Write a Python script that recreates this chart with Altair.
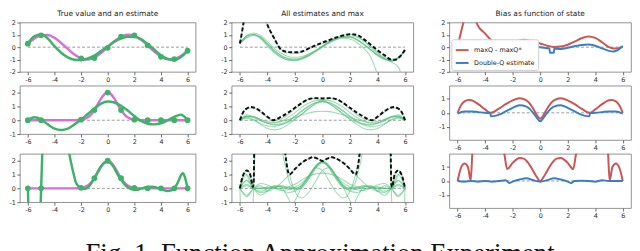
import altair as alt
import pandas as pd

# ---------------- data ----------------
XTICKS = [-6, -4, -2, 0, 2, 4, 6]
ZERO_X = [-6, 6]
ZERO_Y = [0, 0]

PTS_X = [-6, -5, -2, -1, 0, 1, 2, 3, 4, 5, 6]
R1_PTS_Y = [0.28, 0.96, -0.91, -0.88, -0.05, 0.86, 0.95, 0.14, -0.78, -0.96, -0.29]
R23_PTS_Y = [0.0, 0.0, 0.04, 0.74, 2.0, 0.74, 0.04, 0.0, 0.0, 0.0, 0.0]

GRID = [-6, -5.5, -5, -4.5, -4, -3.5, -3, -2.5, -2, -1.5, -1, -0.5, 0,
        0.5, 1, 1.5, 2, 2.5, 3, 3.5, 4, 4.5, 5, 5.5, 6]

# row 1 -------------------------------------------------------
R1_TRUE = [0.28, 0.71, 0.96, 0.98, 0.76, 0.35, -0.14, -0.60, -0.91, -1.00, -0.84, -0.48, 0.00,
           0.48, 0.84, 1.00, 0.91, 0.60, 0.14, -0.35, -0.76, -0.98, -0.96, -0.71, -0.28]
R1_EST = [0.30, 0.90, 1.02, 0.70, 0.08, -0.45, -0.82, -1.02, -1.05, -0.92, -0.68, -0.32, 0.05,
          0.45, 0.72, 0.85, 0.85, 0.65, 0.25, -0.20, -0.65, -0.95, -1.05, -0.80, -0.30]

R1_G_B = [0.30, 0.95, 1.15, 0.95, 0.45, -0.10, -0.50, -0.75, -0.82, -0.75, -0.55, -0.25, 0.12,
          0.48, 0.78, 0.98, 1.05, 0.90, 0.50, 0.00, -0.50, -0.90, -1.15, -0.90, -0.30]
R1_G_C_X = [-6, -5.5, -5, -4.5, -4, -3.5, -3, -2.5, -2, -1.5, -1, -0.5, 0, 0.5, 1, 1.5, 2, 2.5,
            3, 3.5, 4, 4.5]
R1_G_C = [0.30, 0.90, 1.05, 0.80, 0.22, -0.38, -0.82, -1.05, -1.10, -0.98, -0.72, -0.38, 0.00,
          0.35, 0.60, 0.72, 0.66, 0.38, -0.10, -0.80, -2.20, -4.0]
R1_G_D_X = [-6, -5.5, -5, -4.5, -4, -3.5, -3, -2.5, -2, -1.5, -1, -0.5, 0, 0.5, 1, 1.5, 2, 2.5,
            3, 3.5, 4, 4.5, 5, 5.5, 5.75, 6]
R1_G_D = [0.30, 0.80, 1.00, 0.82, 0.30, -0.25, -0.68, -0.95, -1.02, -0.90, -0.65, -0.30, 0.05,
          0.40, 0.65, 0.78, 0.78, 0.58, 0.20, -0.25, -0.68, -1.00, -1.20, -1.60, -2.3, -3.5]
R1_G_E_X = [-6, -5.85, -5.7, -5.5, -5, -4.5, -4.07, -3.5, -3, -2.5, -2, -1.5, -1, -0.5, 0, 0.5,
            1, 1.5, 2, 2.5, 3, 3.5, 4, 4.5, 5, 5.5, 6]
R1_G_E = [0.3, 1.2, 2.2, 3.2, 4.0, 3.4, 2.0, 0.7, -0.2, -0.45, -0.5, -0.4, -0.15, 0.1, 0.3, 0.5,
          0.7, 0.85, 0.9, 0.8, 0.5, 0.1, -0.4, -0.8, -1.05, -0.9, -0.25]
R1_G_F = [0.30, 0.75, 0.95, 0.75, 0.25, -0.30, -0.70, -0.90, -0.95, -0.85, -0.60, -0.28, 0.05,
          0.40, 0.68, 0.82, 0.82, 0.62, 0.25, -0.18, -0.60, -0.92, -1.10, -0.85, -0.30]
R1_MAX_X = [-6, -5.85, -5.7, -5.5, -5, -4.5, -4.07, -3.5, -3, -2.5, -2, -1.5, -1, -0.5, 0, 0.5,
            1, 1.5, 2, 2.5, 3, 3.5, 4, 4.5, 5, 5.3, 5.6, 6]
R1_MAX = [0.3, 1.2, 2.2, 3.2, 4.0, 3.4, 2.0, 0.7, -0.2, -0.4, -0.42, -0.35, -0.1, 0.15, 0.38,
          0.58, 0.78, 0.95, 1.05, 1.0, 0.65, 0.2, -0.25, -0.65, -1.0, -1.02, -0.8, -0.2]

R1_RED_X = [-6, -5.8, -5.55, -5.2, -4.9, -4.65, -4.5, -4, -3.5, -3, -2.5, -2, -1.5, -1.2, -1,
            -0.5, 0, 0.5, 1, 1.5, 2, 2.5, 3, 3.5, 4, 4.5, 5, 5.3, 5.6, 6]
R1_RED = [0.02, 1.0, 2.1, 3.0, 3.0, 2.05, 1.7, 1.1, 0.5, 0.07, 0.2, 0.4, 0.55, 0.6, 0.58,
          0.45, 0.3, 0.12, 0.02, 0.05, 0.2, 0.45, 0.72, 0.87, 0.75, 0.4, 0.0, -0.1, -0.1, 0.05]
R1_BLUE_X = [-6, -5.5, -5.2, -5, -4.5, -4, -3.5, -3, -2.5, -2, -1.5, -1, -0.5, 0, 0.5, 0.68,
             0.7, 1.0, 1.02, 1.5, 2, 2.5, 3, 3.5, 4, 4.5, 5, 5.3, 5.6, 6]
R1_BLUE = [0.0, 0.25, 0.3, 0.27, 0.12, -0.05, -0.15, -0.12, 0.0, 0.12, 0.2, 0.18, 0.1, 0.0,
           -0.08, -0.1, -0.45, -0.45, -0.1, -0.15, -0.05, 0.08, 0.18, 0.22, 0.12, -0.1, -0.3,
           -0.35, -0.25, 0.1]

# rows 2 and 3: true value ---------------------------------------
R23_TRUE_X = [-6, -5, -4, -3, -2.5, -2.25, -2, -1.75, -1.5, -1.25, -1, -0.75, -0.5, -0.25, 0,
              0.25, 0.5, 0.75, 1, 1.25, 1.5, 1.75, 2, 2.25, 2.5, 3, 4, 5, 6]
R23_TRUE = [0, 0, 0, 0, 0.0, 0.01, 0.04, 0.09, 0.21, 0.42, 0.74, 1.14, 1.56, 1.88, 2.0,
            1.88, 1.56, 1.14, 0.74, 0.42, 0.21, 0.09, 0.04, 0.01, 0.0, 0, 0, 0, 0]

# row 2 -------------------------------------------------------
R2_EST = [0.0, 0.22, 0.05, -0.3, -0.6, -0.7, -0.6, -0.3, 0.05, 0.45, 0.85, 1.2, 1.35,
          1.28, 1.05, 0.7, 0.3, -0.05, -0.25, -0.3, -0.22, 0.0, 0.25, 0.4, 0.0]
R2_G_B = [0.0, 0.4, 0.25, 0.0, -0.22, -0.3, -0.25, -0.05, 0.3, 0.7, 1.05, 1.28, 1.35,
          1.2, 0.85, 0.45, 0.05, -0.3, -0.6, -0.7, -0.6, -0.3, 0.05, 0.22, 0.0]
R2_G_C = [0.0, 0.3, 0.2, -0.05, -0.2, -0.2, -0.05, 0.2, 0.55, 0.95, 1.25, 1.42, 1.45,
          1.42, 1.25, 0.95, 0.55, 0.2, -0.05, -0.2, -0.2, -0.05, 0.2, 0.3, 0.0]
R2_G_D = [0.0, 0.3, 0.25, 0.05, -0.1, -0.15, -0.1, 0.05, 0.2, 0.38, 0.52, 0.62, 0.65,
          0.62, 0.52, 0.38, 0.2, 0.05, -0.1, -0.15, -0.1, 0.05, 0.25, 0.3, 0.0]
R2_G_E = [0.0, 0.85, 0.9, 0.6, 0.2, 0.0, 0.1, 0.4, 0.8, 1.25, 1.52, 1.58, 1.45,
          1.2, 0.85, 0.45, 0.1, -0.15, -0.3, -0.35, -0.2, 0.05, 0.25, 0.25, 0.0]
R2_G_F = [0.0, 0.25, 0.25, 0.05, -0.2, -0.35, -0.3, -0.15, 0.1, 0.45, 0.85, 1.2, 1.45,
          1.58, 1.52, 1.25, 0.8, 0.4, 0.1, 0.0, 0.2, 0.6, 0.9, 0.85, 0.0]
R2_G_G = [0.0, 0.15, 0.0, -0.25, -0.42, -0.45, -0.35, -0.1, 0.25, 0.65, 1.0, 1.25, 1.32,
          1.25, 1.0, 0.65, 0.25, -0.1, -0.35, -0.45, -0.42, -0.25, 0.0, 0.15, 0.0]
R2_MAX_X = [-6, -5.75, -5.5, -5.2, -5, -4.5, -4, -3.6, -3, -2.5, -2, -1.5, -1, -0.5, 0, 0.5,
            1, 1.5, 2, 2.5, 3, 3.6, 4, 4.5, 5, 5.2, 5.5, 5.75, 6]
R2_MAX = [0, 0.6, 0.85, 0.95, 0.92, 0.65, 0.25, 0.0, 0.25, 0.55, 0.9, 1.25, 1.52, 1.6, 1.58,
          1.6, 1.52, 1.25, 0.9, 0.55, 0.25, 0.0, 0.25, 0.65, 0.92, 0.95, 0.85, 0.6, 0]

R2_RED_X = [-6, -5.75, -5.5, -5.2, -5, -4.5, -4, -3.6, -3, -2.5, -2, -1.5, -1, -0.5, -0.25, 0,
            0.25, 0.5, 1, 1.5, 2, 2.5, 3, 3.6, 4, 4.5, 5, 5.2, 5.5, 5.75, 6]
R2_RED = [0, 0.55, 0.82, 0.92, 0.9, 0.62, 0.25, 0.0, 0.3, 0.62, 0.9, 1.05, 0.9, 0.3, -0.15,
          -0.42, -0.15, 0.3, 0.9, 1.05, 0.9, 0.62, 0.3, 0.0, 0.25, 0.62, 0.9, 0.92, 0.82, 0.55, 0]
R2_BLUE_X = [-6, -5.5, -5, -4.5, -4, -3.62, -3.58, -3.2, -2.8, -2.5, -2, -1.5, -1, -0.5, -0.25,
             0, 0.25, 0.5, 1, 1.5, 2, 2.5, 2.8, 3.2, 3.58, 3.62, 4, 4.5, 5, 5.5, 6]
R2_BLUE = [-0.05, 0.1, 0.1, 0.05, 0.0, -0.02, -0.25, -0.2, -0.05, 0.1, 0.35, 0.55, 0.45, 0.0,
           -0.35, -0.6, -0.35, 0.0, 0.45, 0.55, 0.35, 0.1, -0.05, -0.2, -0.25, -0.02, 0.0, 0.05,
           0.1, 0.1, -0.05]

# row 3 -------------------------------------------------------
R3_EST_X = [-6, -5.95, -5.85, -5.5, -5.15, -5.05, -5, -4.95, -4.85, -4, -3.1, -2.9, -2.6, -2.4,
            -2.2, -2, -1.75, -1.5, -1.25, -1, -0.75, -0.5, -0.25, 0, 0.25, 0.5, 0.75, 1, 1.25,
            1.5, 1.75, 2, 2.25, 2.5, 3, 3.25, 3.5, 4, 4.5, 4.75, 5, 5.25, 5.5, 5.65, 5.8, 6]
R3_EST = [0, -1.5, -4, -8, -4, -1.5, 0, 1.5, 4, 10, 4, 2.6, 1.2, 0.45, 0.15, 0.02, -0.05, 0.05,
          0.35, 0.75, 1.2, 1.6, 1.85, 1.9, 1.8, 1.45, 1.0, 0.65, 0.3, 0.08, -0.05, -0.1, -0.1,
          -0.02, 0.1, 0.12, 0.1, -0.05, -0.2, -0.15, 0.0, 0.4, 0.95, 1.1, 0.8, 0]
R3_G_B_X = [-6, -5.8, -5.65, -5.5, -5.25, -5, -4.75, -4.5, -4, -3.5, -3.25, -3, -2.5, -2.25, -2,
            -1.75, -1.5, -1.25, -1, -0.75, -0.5, -0.25, 0, 0.25, 0.5, 0.75, 1, 1.25, 1.5, 1.75,
            2, 2.2, 2.4, 2.6, 2.9, 3.1, 4, 4.85, 4.95, 5, 5.05, 5.15, 5.5, 5.85, 5.95, 6]
R3_G_B = [0, 0.8, 1.1, 0.95, 0.4, 0.0, -0.15, -0.2, -0.05, 0.1, 0.12, 0.1, -0.02, -0.1, -0.1,
          -0.05, 0.08, 0.3, 0.65, 1.0, 1.45, 1.8, 1.9, 1.85, 1.6, 1.2, 0.75, 0.35, 0.05, -0.05,
          0.02, 0.15, 0.45, 1.2, 2.6, 4, 10, 4, 1.5, 0, -1.5, -4, -8, -4, -1.5, 0]
R3_G_C = [0, 0.55, 0, -0.3, -0.2, 0.1, 0.15, 0.05, 0.0, 0.25, 0.8, 1.6, 1.95,
          1.6, 0.8, 0.25, 0.0, 0.05, 0.15, 0.1, -0.2, -0.3, 0, 0.55, 0]
R3_G_D = [0, -0.6, 0, 0.35, 0.25, 0.05, 0.0, 0.1, 0.3, 0.6, 0.9, 1.05, 1.1,
          1.05, 0.9, 0.6, 0.3, 0.1, 0.0, 0.05, 0.25, 0.35, 0, -0.6, 0]
R3_G_E_X = [-6, -5.8, -5.5, -5.25, -5.05, -4.97, -4.9, -4, -2.8, -2.7, -2.4, -2.2, -2, -1.75,
            -1.5, -1, -0.5, 0, 0.5, 1, 1.5, 2, 2.5, 3, 3.5, 4, 4.5, 5, 5.5, 6]
R3_G_E = [0, 0.85, 1.3, 1.0, 0.1, 1.5, 3.5, 8, 3.5, 2.5, 1.0, 0.3, -0.2, -0.6, -0.7, -0.3, 0.5,
          1.3, 1.5, 0.9, 0.2, -0.2, -0.3, -0.1, 0.1, 0.1, 0.0, 0.0, 0.2, 0]
R3_G_F_X = [-6, -5.5, -5, -4.5, -4, -3.5, -3, -2.5, -2, -1.5, -1, -0.5, 0, 0.5, 1, 1.5, 1.75, 2,
            2.2, 2.4, 2.7, 2.8, 4, 4.9, 4.97, 5.05, 5.25, 5.5, 5.8, 6]
R3_G_F = [0, 0.2, 0.0, 0.0, 0.1, 0.1, -0.1, -0.3, -0.2, 0.2, 0.9, 1.5, 1.3, 0.5, -0.3, -0.7,
          -0.6, -0.2, 0.3, 1.0, 2.5, 3.5, 8, 3.5, 1.5, 0.1, 1.0, 1.3, 0.85, 0]
R3_G_G_X = [-6, -5.5, -5, -4.5, -4, -3.5, -3, -2.4, -2, -1.5, -1, -0.7, -0.35, 0, 0.5, 1, 1.5,
            2, 2.5, 3, 3.5, 4, 4.5, 5, 5.5, 6]
R3_G_G = [0, -0.5, 0, 0.2, -0.2, 0.0, 0.4, 1.0, 1.4, 1.85, 2.15, 2.25, 2.15, 1.98, 1.5, 0.9,
          0.4, 0.1, -0.1, -0.15, 0.0, 0.1, 0.0, 0.0, 0.3, 0]
R3_G_H_X = [-6, -5.5, -5, -4.5, -4, -3.5, -3, -2.5, -2, -1.5, -1, -0.5, 0, 0.35, 0.7, 1, 1.5,
            2, 2.4, 3, 3.5, 4, 4.5, 5, 5.5, 6]
R3_G_H = [0, 0.3, 0.0, 0.0, 0.1, 0.0, -0.15, -0.1, 0.1, 0.4, 0.9, 1.5, 1.98, 2.15, 2.25, 2.15,
          1.85, 1.4, 1.0, 0.4, 0.0, -0.2, 0.2, 0, -0.5, 0]
R3_G_I_X = [-6, -5.5, -5, -4.5, -4, -3.5, -3, -2.5, -2.2, -2, -1.5, -1, -0.5, 0, 0.5, 1, 1.5, 2,
            2.5, 3, 3.5, 4, 4.5, 5, 5.5, 6]
R3_G_I = [0, 1.0, 0.0, -0.5, -0.2, 0.2, 0.1, -0.7, -1.2, -0.9, 0.1, 0.9, 1.6, 1.85, 1.5, 0.8,
          0.2, 0.0, 0.1, 0.2, 0.1, 0.0, 0.0, 0.0, 0.6, 0]
R3_G_J_X = [-6, -5.5, -5, -4.5, -4, -3.5, -3, -2.5, -2, -1.5, -1, -0.5, 0, 0.5, 1, 1.5, 2, 2.2,
            2.5, 3, 3.5, 4, 4.5, 5, 5.5, 6]
R3_G_J = [0, 0.6, 0.0, 0.0, 0.0, 0.1, 0.2, 0.1, 0.0, 0.2, 0.8, 1.5, 1.85, 1.6, 0.9, 0.1, -0.9,
          -1.2, -0.7, 0.1, 0.2, -0.2, -0.5, 0.0, 1.0, 0]
R3_MAX_X = [-6, -5.8, -5.5, -5.25, -5.05, -5.0, -4.95, -4, -2.8, -2.7, -2.4, -2.0, -1.5, -1.0,
            -0.7, -0.35, 0, 0.35, 0.7, 1.0, 1.5, 2.0, 2.4, 2.7, 2.8, 4, 4.95, 5.0, 5.05, 5.25,
            5.5, 5.8, 6]
R3_MAX = [0, 0.85, 1.3, 1.0, 0.1, 0.3, 3.0, 8, 3.5, 2.5, 1.0, 1.4, 1.85, 2.15, 2.25, 2.15,
          1.98, 2.15, 2.25, 2.15, 1.85, 1.4, 1.0, 2.5, 3.5, 8, 3.0, 0.3, 0.1, 1.0, 1.3, 0.85, 0]

R3_RED_X = [-6, -5.75, -5.5, -5.25, -5.05, -4.97, -4.9, -3.5, -2.75, -2.6, -2.4, -2.0, -1.5,
            -1.2, -1.0, -0.7, -0.35, 0, 0.35, 0.7, 1.0, 1.2, 1.5, 2.0, 2.4, 2.6, 2.75, 3.5, 4.9,
            4.97, 5.05, 5.25, 5.5, 5.75, 6]
R3_RED = [0, 0.95, 1.25, 1.0, 0.05, 1.2, 2.5, 6, 2.5, 1.9, 0.85, 1.3, 1.65, 1.6, 1.45, 1.05,
          0.45, 0, 0.45, 1.05, 1.45, 1.6, 1.65, 1.3, 0.85, 1.9, 2.5, 6, 2.5, 1.2, 0.05, 1.0,
          1.25, 0.95, 0]
R3_BLUE_X = [-6, -5.5, -5, -4.5, -4, -3.5, -3, -2.5, -2.25, -2, -1.5, -1, -0.5, 0, 0.5, 1, 1.5,
             2, 2.25, 2.5, 3, 3.5, 4, 4.5, 5, 5.5, 6]
R3_BLUE = [0, -0.05, 0, -0.05, 0, -0.05, 0, 0.05, -0.15, -0.05, 0.1, 0.2, 0.05, -0.05, 0.05,
           0.2, 0.1, -0.05, -0.15, 0, 0.02, 0, -0.05, 0.05, 0, 0, 0]

LEGEND_LABELS = ["maxQ - maxQ*", "Double-Q estimate"]
TITLES = ["True value and an estimate", "All estimates and max", "Bias as function of state"]
CAPTION = "Fig. 1. Function Approximation Experiment"

# ---------------- styling ----------------
MAGENTA = "#d86fd8"
GREEN = "#3fb26a"
LIGHTGREEN = "#52be7a"
RED = "#cc5555"
BLUE = "#3a7fc4"
GRAY = "#999999"


def frame(xs, ys, name="a"):
    return pd.DataFrame({"x": xs, "y": ys, "s": name})


def encodings(ydom, yticks):
    x = alt.X("x:Q", scale=alt.Scale(domain=[-6.6, 6.6], nice=False, zero=False),
              axis=alt.Axis(values=XTICKS, title=None, labelExpr="toString(datum.value)"))
    y = alt.Y("y:Q", scale=alt.Scale(domain=ydom, nice=False, zero=False),
              axis=alt.Axis(values=yticks, title=None, labelExpr="toString(datum.value)"))
    return x, y


def zero_layer(x, y):
    return alt.Chart(frame(ZERO_X, ZERO_Y)).mark_line(
        color=GRAY, strokeDash=[3, 2], strokeWidth=1, clip=True).encode(x=x, y=y)


def col1_panel(true_x, true_y, est_x, est_y, pts_y, ydom, yticks, w, h):
    x, y = encodings(ydom, yticks)
    layers = [
        zero_layer(x, y),
        alt.Chart(frame(true_x, true_y)).mark_line(
            color=MAGENTA, strokeWidth=2.5, interpolate="monotone", clip=True).encode(x=x, y=y),
        alt.Chart(frame(est_x, est_y)).mark_line(
            color=GREEN, strokeWidth=2.5, interpolate="monotone", clip=True).encode(x=x, y=y),
        alt.Chart(frame(PTS_X, pts_y)).mark_circle(
            color=GREEN, size=34, opacity=1).encode(x=x, y=y),
    ]
    return alt.layer(*layers).properties(width=w, height=h)


def col2_panel(greens, max_x, max_y, ydom, yticks, w, h):
    x, y = encodings(ydom, yticks)
    gdf = pd.concat([frame(gx, gy, "g%d" % i) for i, (gx, gy) in enumerate(greens)])
    layers = [
        zero_layer(x, y),
        alt.Chart(gdf).mark_line(
            color=LIGHTGREEN, strokeWidth=1.1, opacity=0.55, interpolate="monotone",
            clip=True).encode(x=x, y=y, detail="s:N"),
        alt.Chart(frame(max_x, max_y)).mark_line(
            color="#111111", strokeWidth=2, strokeDash=[4, 2.2], interpolate="monotone",
            clip=True).encode(x=x, y=y),
    ]
    return alt.layer(*layers).properties(width=w, height=h)


def col3_panel(red_x, red_y, blue_x, blue_y, ydom, yticks, w, h, legend=False):
    x, y = encodings(ydom, yticks)
    d = pd.concat([frame(red_x, red_y, LEGEND_LABELS[0]), frame(blue_x, blue_y, LEGEND_LABELS[1])])
    if legend:
        leg = alt.Legend(title=None, orient="bottom-left", offset=2, padding=3, rowPadding=1,
                         fillColor="white", strokeColor="#cccccc", cornerRadius=2,
                         symbolType="stroke", symbolSize=170, symbolStrokeWidth=2,
                         labelFont="DejaVu Sans", labelFontSize=6.5, labelColor="#222",
                         labelOffset=4)
    else:
        leg = None
    color = alt.Color("s:N", scale=alt.Scale(domain=LEGEND_LABELS, range=[RED, BLUE]),
                      legend=leg, sort=LEGEND_LABELS)
    layers = [
        zero_layer(x, y),
        alt.Chart(d).mark_line(strokeWidth=2, interpolate="monotone", clip=True).encode(
            x=x, y=y, color=color, detail="s:N"),
    ]
    return alt.layer(*layers).properties(width=w, height=h)


def titled(ch, text):
    return ch.properties(title=alt.TitleParams(text, font="DejaVu Sans", fontSize=7.5,
                                               fontWeight="normal", color="#222",
                                               anchor="middle", offset=2))


W1, W2, W3 = 178, 184, 184
H1 = 50
H_SMALL = 49
H_TALL = 55

p11 = titled(col1_panel(GRID, R1_TRUE, GRID, R1_EST, R1_PTS_Y, [-2, 2], [-2, -1, 0, 1, 2], W1, H1), TITLES[0])
p21 = col1_panel(R23_TRUE_X, R23_TRUE, GRID, R2_EST, R23_PTS_Y, [-1, 2.5], [-1, 0, 1, 2], W1, H_SMALL)
p31 = col1_panel(R23_TRUE_X, R23_TRUE, R3_EST_X, R3_EST, R23_PTS_Y, [-1, 2.5], [-1, 0, 1, 2], W1, H_SMALL)

r1_greens = [(GRID, R1_EST), (GRID, R1_G_B), (R1_G_C_X, R1_G_C), (R1_G_D_X, R1_G_D),
             (R1_G_E_X, R1_G_E), (GRID, R1_G_F)]
r2_greens = [(GRID, R2_EST), (GRID, R2_G_B), (GRID, R2_G_C), (GRID, R2_G_D), (GRID, R2_G_E),
             (GRID, R2_G_F), (GRID, R2_G_G)]
r3_greens = [(R3_EST_X, R3_EST), (R3_G_B_X, R3_G_B), (GRID, R3_G_C), (GRID, R3_G_D),
             (R3_G_E_X, R3_G_E), (R3_G_F_X, R3_G_F), (R3_G_G_X, R3_G_G), (R3_G_H_X, R3_G_H),
             (R3_G_I_X, R3_G_I), (R3_G_J_X, R3_G_J)]

p12 = titled(col2_panel(r1_greens, R1_MAX_X, R1_MAX, [-2, 2], [-2, -1, 0, 1, 2], W2, H1), TITLES[1])
p22 = col2_panel(r2_greens, R2_MAX_X, R2_MAX, [-1, 2.5], [-1, 0, 1, 2], W2, H_SMALL)
p32 = col2_panel(r3_greens, R3_MAX_X, R3_MAX, [-1, 2.5], [-1, 0, 1, 2], W2, H_SMALL)

p13 = titled(col3_panel(R1_RED_X, R1_RED, R1_BLUE_X, R1_BLUE, [-2, 2], [-2, -1, 0, 1, 2], W3, H1,
                        legend=True), TITLES[2])
p23 = col3_panel(R2_RED_X, R2_RED, R2_BLUE_X, R2_BLUE, [-1.95, 1.95], [-1, 0, 1], W3, H_TALL)
p33 = col3_panel(R3_RED_X, R3_RED, R3_BLUE_X, R3_BLUE, [-1.95, 1.95], [-1, 0, 1], W3, H_TALL)

chart = alt.concat(
    p11, p12, p13, p21, p22, p23, p31, p32, p33,
    columns=3, spacing={"row": 14, "column": 36.5}, bounds="flush", align="each"
).resolve_scale(
    color="independent"
).properties(
    padding={"left": 0, "top": 0, "right": 0, "bottom": 0},
    title=alt.TitleParams(CAPTION, orient="bottom", anchor="middle", font="Liberation Serif",
                          fontSize=27, fontWeight="normal", color="#111", offset=22),
).configure_view(
    stroke="#777777", strokeWidth=0.8
).configure_axis(
    domain=False, grid=False, tickColor="#444", tickSize=3, tickWidth=0.8,
    labelFont="DejaVu Sans", labelFontSize=6.5, labelColor="#333", labelPadding=1.5
)

chart.save("out.html", embed_options={"renderer": "svg", "actions": False})
